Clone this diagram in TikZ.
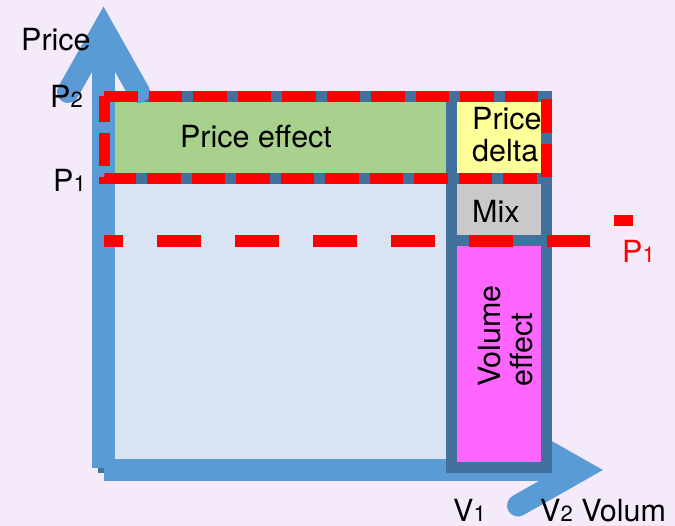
\documentclass[tikz,border=0pt]{standalone}
\usepackage{fontspec}
\setmainfont{TeX Gyre Heros}
\definecolor{bgc}{HTML}{F4EAFA}
\definecolor{axisc}{HTML}{5B9BD5}
\definecolor{framec}{HTML}{41719C}
\definecolor{lightb}{HTML}{DAE3F3}
\definecolor{greenc}{HTML}{A9D18E}
\definecolor{yellowc}{HTML}{FFFF99}
\definecolor{grayc}{HTML}{C9C9C9}
\definecolor{magc}{HTML}{FF66FF}
\definecolor{redc}{HTML}{FF0000}
\newcommand{\subdig}[1]{{\fontsize{22}{22}\selectfont #1}}
\begin{document}
\begin{tikzpicture}[x=1pt,y=-1pt,
  frame/.style={draw=framec, line width=11pt},
  axisline/.style={draw=axisc, line width=22.5pt},
  axishead/.style={draw=axisc, line width=22pt, line cap=round, line join=miter},
  reddash/.style={draw=redc, line width=11pt, dash pattern=on 33.5pt off 11pt},
  lbl/.style={inner sep=0pt, font=\fontsize{30.5}{32}\selectfont, text=black},
]
\useasboundingbox (0,0) rectangle (675,526);
\fill[bgc] (0,0) rectangle (675,526);
% main regions
\draw[frame, fill=greenc] (103.5,96.5) rectangle (451.5,179);
\draw[frame, fill=lightb] (103.5,179) rectangle (451.5,468);
% axes
\draw[axisline] (104,470) -- (580.6,470);
\draw[axishead] (518,434.5) -- (580.6,470) -- (518,505.5);
\draw[axisline] (103.5,468) -- (103.5,29);
\draw[axishead] (68,92) -- (103.5,29) -- (139,92);
% column
\draw[frame, fill=yellowc] (451.5,96.5) rectangle (546,179);
\draw[frame, fill=grayc] (451.5,179) rectangle (546,241);
\draw[frame, fill=magc] (451.5,241) rectangle (546,468);
% red dashed
\draw[reddash] (104,96.5) -- (546,96.5) -- (546,179) -- (104,179) -- cycle;
\draw[draw=redc, line width=12pt, dash pattern=on 44pt off 34pt, dash phase=25pt] (104,241) -- (590,241);
\fill[redc] (614,215) rectangle (633,226);
% labels
\node[lbl, anchor=base west] (price) at (21,51) {Price};
\node[lbl, anchor=base west] (p2) at (50,108) {P\subdig{2}};
\node[lbl, anchor=base west] (p1) at (53,192) {P\subdig{1}};
\node[lbl, anchor=base] (peff) at (256,147.7) {Price effect};
\node[lbl, anchor=base west, align=left] (pdelta) at (472,162) {Price\\delta};
\node[lbl, anchor=base west] (mix) at (472,223) {Mix};
\node[lbl, anchor=base west, align=left, rotate=90] (veff) at (532,387) {Volume\\effect};
\node[lbl, anchor=base west, text=redc] (p1r) at (622,263) {P\subdig{1}};
\node[lbl, anchor=base west] (v1) at (453,521) {V\subdig{1}};
\node[lbl, anchor=base west] (v2) at (540,521) {V\subdig{2} Volum};
\end{tikzpicture}
\end{document}
